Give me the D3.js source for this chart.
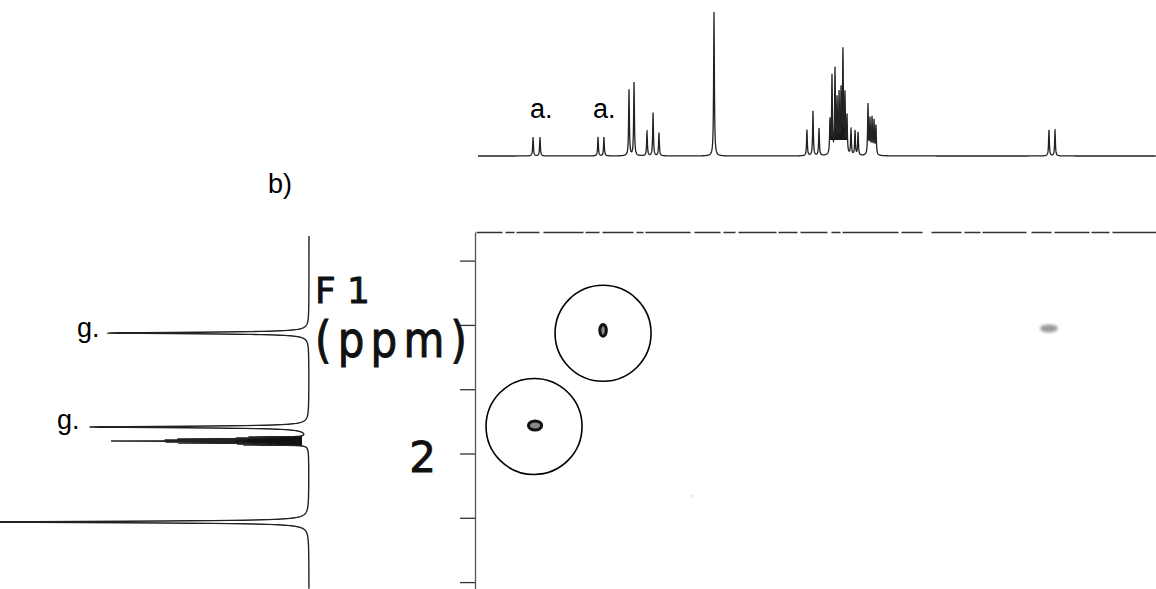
<!DOCTYPE html>
<html>
<head>
<meta charset="utf-8">
<script src="https://cdn.jsdelivr.net/npm/d3@7"></script>
<style>
  body { margin: 0; background: #fff; }
  svg { display: block; }
  .lbl { font-family: Arial, "Liberation Sans", sans-serif; font-size: 27px; fill: #000; }
  .plotter { font-family: "DejaVu Sans", sans-serif; fill: #111; stroke: #111; stroke-width: 0.9px; }
</style>
</head>
<body>
<div class="svg-container"></div>
<script>
// Global Variables
const width = 1156;
const height = 589;

// F2 (top) 1D spectrum: peak positions (ppm) and relative heights
const f2Peaks = [5.747, 5.692, 5.231, 5.184, 4.985, 4.945, 4.842, 4.794, 4.747, 4.310,
    3.572, 3.524, 3.476, 3.389, 3.373, 3.349, 3.333, 3.317, 3.301, 3.286, 3.270, 3.254,
    3.222, 3.190, 3.166, 3.087, 3.071, 3.055, 3.039, 3.024, 1.650, 1.602];
const f2Heights = [13, 13, 13, 13, 46, 51, 17, 30, 16, 100,
    18, 31, 19, 23, 54, 58, 36, 40, 42, 70, 40, 26,
    18, 17, 16, 35, 24, 25, 23, 20, 18, 18];

// F1 (left) projection: peak positions (ppm), relative heights and line widths (ppm)
const f1Peaks = [1.6252, 1.9176, 1.9487, 1.9518, 1.9549, 1.9580, 1.9611, 1.9642, 1.9673, 1.9705, 1.9736, 2.2131];
const f1Heights = [66.7, 73, 17, 19, 38, 40, 59, 40, 38, 19, 19, 110];
const f1Widths = [0.0028, 0.0028, 0.0008, 0.0008, 0.0008, 0.0008, 0.0008, 0.0008, 0.0008, 0.0008, 0.0008, 0.0028];

// F1 axis ticks
const f1Ticks = [1.4, 1.6, 1.8, 2.0, 2.2, 2.4];

// 2D cross peaks: F2 ppm, F1 ppm, widths (ppm) and level
const crossF2 = [5.191, 5.731, 1.650, 4.485];
const crossF1 = [1.617, 1.913, 1.611, 2.133];
const crossW2 = [0.052, 0.105, 0.143, 0.016];
const crossW1 = [0.036, 0.028, 0.025, 0.006];
const crossLevel = [1.0, 0.95, 0.35, 0.3];

// circled annotations (ppm)
const ringF2 = [5.191, 5.739];
const ringF1 = [1.626, 1.916];

// labels
const aLabels = ["a.", "a."];
const gLabels = ["g.", "g."];

const svg = d3.select(".svg-container")
    .append("svg")
    .attr("width", width)
    .attr("height", height);

// Scales
const x = d3.scaleLinear().domain([6.2, 0.8]).range([476, 1156]);
const y = d3.scaleLinear().domain([1.311, 2.4215]).range([232, 589]);
const topI = d3.scaleLinear().domain([0, 100]).range([156, 12]);
const leftI = d3.scaleLinear().domain([0, 100]).range([309, 9]);

// lorentzian line shape from the peak list
function shape(ppm, peaks, hs, ws) {
    let s = 0;
    for (let i = 0; i < peaks.length; i++) {
        const d = ppm - peaks[i];
        const w = ws[i];
        s += hs[i] * w * w / (d * d + w * w);
    }
    return s;
}

// ---- top spectrum ----
const f2Widths = f2Peaks.map(() => 0.0035);
const topPx = d3.range(478, 1156, 0.25).concat(f2Peaks.map(p => x(p))).sort((a, b) => a - b);
const topData = topPx.map(px => [px, shape(x.invert(px), f2Peaks, f2Heights, f2Widths)]);

svg.append("clipPath").attr("id", "clipTop")
    .append("rect").attr("x", 826).attr("y", 0).attr("width", 60).attr("height", 140);

svg.append("path")
    .datum(topData)
    .attr("d", d3.area().x(d => d[0]).y0(topI(0)).y1(d => topI(d[1])))
    .attr("fill", "#1a1a1a")
    .attr("clip-path", "url(#clipTop)");

svg.append("path")
    .datum(topData)
    .attr("d", d3.line().x(d => d[0]).y(d => topI(d[1])))
    .attr("fill", "none")
    .attr("stroke", "#222")
    .attr("stroke-width", 1.3);

// ---- left projection ----
const leftPy = d3.range(236, 589, 0.2).concat(f1Peaks.map(p => y(p))).sort((a, b) => a - b);
const leftData = leftPy.map(py => [py, shape(y.invert(py), f1Peaks, f1Heights, f1Widths)]);

svg.append("clipPath").attr("id", "clipLeft")
    .append("rect").attr("x", 0).attr("y", 434).attr("width", 302).attr("height", 14);

svg.append("path")
    .datum(leftData)
    .attr("d", d3.area().y(d => d[0]).x0(leftI(0)).x1(d => leftI(d[1])))
    .attr("fill", "#111")
    .attr("clip-path", "url(#clipLeft)");

svg.append("path")
    .datum(leftData)
    .attr("d", d3.line().y(d => d[0]).x(d => leftI(d[1])))
    .attr("fill", "none")
    .attr("stroke", "#222")
    .attr("stroke-width", 1.4);

// ---- 2D frame ----
const yAxis = d3.axisLeft(y)
    .tickValues(f1Ticks)
    .tickSize(15)
    .tickSizeOuter(0)
    .tickPadding(24)
    .tickFormat(d => (d === 2 ? "2" : ""));

const gy = svg.append("g")
    .attr("transform", "translate(475,0)")
    .call(yAxis);
gy.select(".domain").attr("stroke", "#555").attr("stroke-width", 1.3);
gy.selectAll(".tick line").attr("stroke", "#333").attr("stroke-width", 1.3);
gy.selectAll(".tick text")
    .attr("class", "plotter")
    .attr("dy", "0.42em")
    .style("font-size", "42px");

const xAxis = d3.axisTop(x).tickValues([]).tickSizeOuter(0);
const gx = svg.append("g")
    .attr("transform", "translate(0,232)")
    .call(xAxis);
gx.select(".domain")
    .attr("stroke", "#333")
    .attr("stroke-width", 1.5)
    .attr("stroke-dasharray", "26,3,9,2,23,4,40,2,14,3,31,3,7,2,45,4,26,3,12,3,38,2,19,3,27,4,9,2,56,3,21,9,30,3,16,2,44,5,20,3,35,2,18,3,60,3,24,4,30");

// ---- cross peaks ----
svg.append("defs").append("filter").attr("id", "blur")
    .append("feGaussianBlur").attr("stdDeviation", 1.6);

const cross = crossF2.map((d, i) => ({ f2: d, f1: crossF1[i], w2: crossW2[i], w1: crossW1[i], lv: crossLevel[i] }));
const pxPerPpmX = Math.abs(x(1) - x(0));
const pxPerPpmY = Math.abs(y(1) - y(0));

svg.append("g")
    .selectAll("ellipse")
    .data(cross)
    .enter()
    .append("ellipse")
    .attr("cx", d => x(d.f2))
    .attr("cy", d => y(d.f1))
    .attr("rx", d => d.w2 * pxPerPpmX / 2)
    .attr("ry", d => d.w1 * pxPerPpmY / 2)
    .attr("fill", d => (d.lv > 0.5 ? "#888" : "#9a9a9a"))
    .attr("stroke", d => (d.lv > 0.5 ? "#111" : "none"))
    .attr("stroke-width", 3)
    .attr("filter", d => (d.lv > 0.5 ? null : "url(#blur)"));

// circled annotations
svg.append("g")
    .selectAll("circle")
    .data(ringF2)
    .enter()
    .append("circle")
    .attr("cx", d => x(d))
    .attr("cy", (d, i) => y(ringF1[i]))
    .attr("r", 48)
    .attr("fill", "none")
    .attr("stroke", "#000")
    .attr("stroke-width", 1.6);

// ---- labels ----
svg.append("g")
    .selectAll("text")
    .data(aLabels)
    .enter()
    .append("text")
    .attr("class", "lbl")
    .attr("x", (d, i) => [530, 593][i])
    .attr("y", 118)
    .text(d => d);

svg.append("g")
    .selectAll("text")
    .data(gLabels)
    .enter()
    .append("text")
    .attr("class", "lbl")
    .attr("x", (d, i) => [77, 57][i])
    .attr("y", (d, i) => [337, 429][i])
    .text(d => d);

svg.append("text")
    .attr("class", "lbl")
    .attr("x", 268)
    .attr("y", 193)
    .text("b)");

// F1 (ppm) axis title
svg.append("text")
    .attr("class", "plotter")
    .attr("x", 315)
    .attr("y", 303)
    .attr("textLength", 55)
    .attr("lengthAdjust", "spacing")
    .style("font-size", "36px")
    .text("F1");

svg.append("text")
    .attr("class", "plotter")
    .attr("transform", "translate(315,357) scale(1,1.2)")
    .attr("textLength", 152)
    .attr("lengthAdjust", "spacing")
    .style("font-size", "42px")
    .text("(ppm)");
</script>
</body>
</html>
